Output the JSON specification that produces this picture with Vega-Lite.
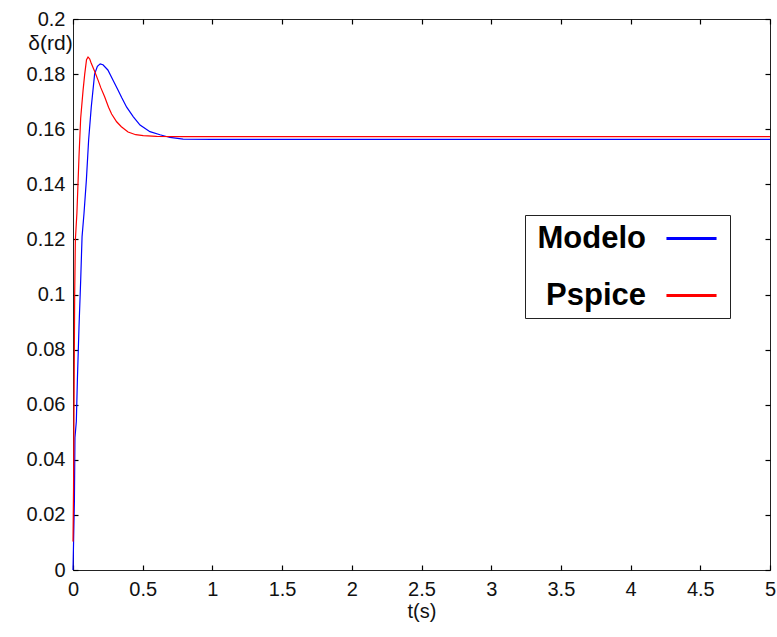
{
  "$schema": "https://vega.github.io/schema/vega-lite/v6.json",
  "width": 697,
  "height": 551,
  "autosize": {"type": "none"},
  "padding": {"left": 73, "top": 19, "right": 7, "bottom": 67},
  "background": "white",
  "config": {
    "view": {"stroke": "#222", "strokeWidth": 1},
    "font": "Liberation Sans",
    "axis": {
      "labelFont": "Liberation Sans",
      "titleFont": "Liberation Sans",
      "labelFontSize": 20,
      "titleFontSize": 20,
      "labelColor": "#111",
      "titleColor": "#111",
      "titleFontWeight": "normal",
      "domain": false,
      "ticks": true,
      "tickColor": "#000",
      "tickOpacity": 1,
      "tickSize": 5,
      "tickWidth": 1.2,
      "offset": -5,
      "zindex": 1,
      "grid": false
    }
  },
  "datasets": {
    "curves": [
      {"t": 0, "v": 0, "s": "Modelo"},
      {"t": 0.004, "v": 0.010, "s": "Modelo"},
      {"t": 0.01, "v": 0.025, "s": "Modelo"},
      {"t": 0.014, "v": 0.048, "s": "Modelo"},
      {"t": 0.024, "v": 0.054, "s": "Modelo"},
      {"t": 0.032, "v": 0.07, "s": "Modelo"},
      {"t": 0.043, "v": 0.088, "s": "Modelo"},
      {"t": 0.055, "v": 0.105, "s": "Modelo"},
      {"t": 0.065, "v": 0.121, "s": "Modelo"},
      {"t": 0.079, "v": 0.1295, "s": "Modelo"},
      {"t": 0.096, "v": 0.1416, "s": "Modelo"},
      {"t": 0.112, "v": 0.156, "s": "Modelo"},
      {"t": 0.131, "v": 0.168, "s": "Modelo"},
      {"t": 0.155, "v": 0.18, "s": "Modelo"},
      {"t": 0.175, "v": 0.1828, "s": "Modelo"},
      {"t": 0.195, "v": 0.1837, "s": "Modelo"},
      {"t": 0.215, "v": 0.1834, "s": "Modelo"},
      {"t": 0.25, "v": 0.1815, "s": "Modelo"},
      {"t": 0.29, "v": 0.1775, "s": "Modelo"},
      {"t": 0.32, "v": 0.1745, "s": "Modelo"},
      {"t": 0.349, "v": 0.1715, "s": "Modelo"},
      {"t": 0.385, "v": 0.168, "s": "Modelo"},
      {"t": 0.433, "v": 0.1645, "s": "Modelo"},
      {"t": 0.481, "v": 0.1615, "s": "Modelo"},
      {"t": 0.552, "v": 0.1591, "s": "Modelo"},
      {"t": 0.624, "v": 0.158, "s": "Modelo"},
      {"t": 0.696, "v": 0.157, "s": "Modelo"},
      {"t": 0.79, "v": 0.1564, "s": "Modelo"},
      {"t": 1.0, "v": 0.1563, "s": "Modelo"},
      {"t": 5, "v": 0.1563, "s": "Modelo"},
      {"t": 0, "v": 0.0103, "s": "Pspice"},
      {"t": 0.004, "v": 0.03, "s": "Pspice"},
      {"t": 0.008, "v": 0.065, "s": "Pspice"},
      {"t": 0.012, "v": 0.1, "s": "Pspice"},
      {"t": 0.017, "v": 0.12, "s": "Pspice"},
      {"t": 0.028, "v": 0.1295, "s": "Pspice"},
      {"t": 0.043, "v": 0.15, "s": "Pspice"},
      {"t": 0.055, "v": 0.164, "s": "Pspice"},
      {"t": 0.072, "v": 0.174, "s": "Pspice"},
      {"t": 0.084, "v": 0.18, "s": "Pspice"},
      {"t": 0.097, "v": 0.1852, "s": "Pspice"},
      {"t": 0.108, "v": 0.1862, "s": "Pspice"},
      {"t": 0.12, "v": 0.1855, "s": "Pspice"},
      {"t": 0.131, "v": 0.1839, "s": "Pspice"},
      {"t": 0.155, "v": 0.181, "s": "Pspice"},
      {"t": 0.179, "v": 0.1779, "s": "Pspice"},
      {"t": 0.2, "v": 0.175, "s": "Pspice"},
      {"t": 0.227, "v": 0.1718, "s": "Pspice"},
      {"t": 0.255, "v": 0.168, "s": "Pspice"},
      {"t": 0.277, "v": 0.1655, "s": "Pspice"},
      {"t": 0.313, "v": 0.1627, "s": "Pspice"},
      {"t": 0.347, "v": 0.1609, "s": "Pspice"},
      {"t": 0.395, "v": 0.159, "s": "Pspice"},
      {"t": 0.45, "v": 0.158, "s": "Pspice"},
      {"t": 0.504, "v": 0.1577, "s": "Pspice"},
      {"t": 0.6, "v": 0.1574, "s": "Pspice"},
      {"t": 0.8, "v": 0.1573, "s": "Pspice"},
      {"t": 5, "v": 0.1573, "s": "Pspice"}
    ]
  },
  "data": {"name": "curves"},
  "resolve": {"axis": {"x": "independent", "y": "independent"}},
  "layer": [
    {
      "mark": {"type": "line", "strokeWidth": 1.2, "interpolate": "linear"},
      "encoding": {
        "x": {
          "field": "t", "type": "quantitative",
          "scale": {"domain": [0, 5], "nice": false, "zero": false},
          "axis": {
            "title": "t(s)",
            "values": [0, 0.5, 1, 1.5, 2, 2.5, 3, 3.5, 4, 4.5, 5],
            "format": "~g",
            "ticks": true,
            "tickSize": 5,
            "tickColor": "#000",
            "labelPadding": 9,
            "labelFlush": false,
            "titlePadding": 2
          }
        },
        "y": {
          "field": "v", "type": "quantitative",
          "scale": {"domain": [0, 0.2], "nice": false, "zero": false},
          "axis": {
            "title": "δ(rd)",
            "values": [0, 0.02, 0.04, 0.06, 0.08, 0.1, 0.12, 0.14, 0.16, 0.18, 0.2],
            "format": "~g",
            "ticks": true,
            "tickSize": 5,
            "tickColor": "#000",
            "labelPadding": 8,
            "labelFlush": false,
            "titleAngle": 0,
            "titleAlign": "center",
            "titleBaseline": "middle",
            "titleFontSize": 21,
            "titleX": -28,
            "titleY": 24
          }
        },
        "color": {
          "field": "s", "type": "nominal",
          "scale": {"domain": ["Modelo", "Pspice"], "range": ["#0000ff", "#ff0000"]},
          "legend": {
            "title": null,
            "orient": "none",
            "legendX": 452,
            "legendY": 196,
            "padding": 7,
            "strokeColor": "#222",
            "fillColor": "white",
            "labelFont": "Liberation Sans",
            "labelFontSize": 31,
            "labelFontWeight": "bold",
            "labelColor": "#000",
            "labelAlign": "right",
            "labelOffset": -62,
            "labelLimit": 300,
            "symbolType": "M-1.67,0H1.67",
            "symbolSize": 900,
            "symbolStrokeWidth": 3,
            "symbolOffset": 143,
            "rowPadding": 25
          }
        }
      }
    },
    {
      "mark": {"type": "line", "strokeOpacity": 0},
      "encoding": {
        "x": {
          "field": "t", "type": "quantitative",
          "scale": {"domain": [0, 5], "nice": false, "zero": false},
          "axis": {"orient": "top", "title": null, "labels": false,
                   "ticks": true, "tickSize": 5, "tickColor": "#000",
                   "values": [0, 0.5, 1, 1.5, 2, 2.5, 3, 3.5, 4, 4.5, 5]}
        },
        "y": {
          "field": "v", "type": "quantitative",
          "scale": {"domain": [0, 0.2], "nice": false, "zero": false},
          "axis": {"orient": "right", "title": null, "labels": false,
                   "ticks": true, "tickSize": 5, "tickColor": "#000",
                   "values": [0, 0.02, 0.04, 0.06, 0.08, 0.1, 0.12, 0.14, 0.16, 0.18, 0.2]}
        }
      }
    }
  ]
}
